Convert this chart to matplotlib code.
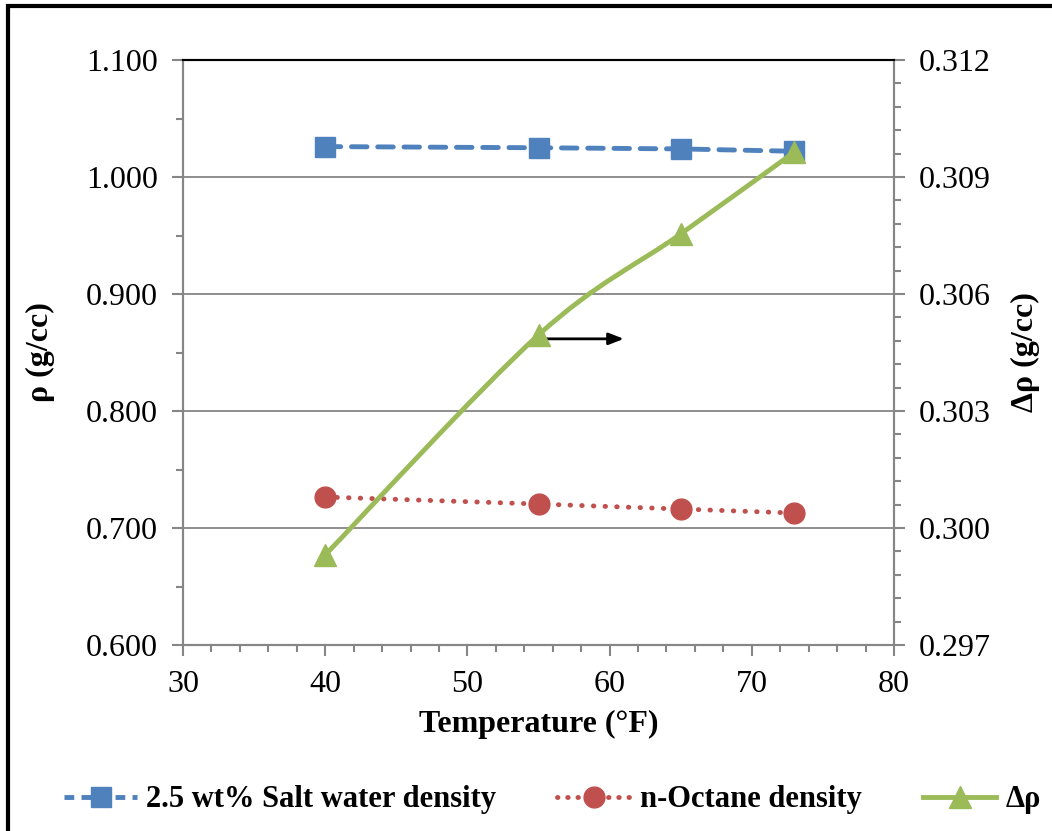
import matplotlib
matplotlib.use("Agg")
import matplotlib.pyplot as plt
from matplotlib.lines import Line2D
from matplotlib.patches import PathPatch, Rectangle
from matplotlib.path import Path
from matplotlib.ticker import MultipleLocator, FormatStrFormatter

# Dữ liệu
temp = [40, 55, 65, 73]
salt_density = [1.026, 1.025, 1.024, 1.022]
octane_density = [0.7265, 0.7205, 0.7162, 0.7128]
delta_rho = [0.29931, 0.30495, 0.30754, 0.30964]

blue = "#4F81BD"
red = "#C0504D"
green = "#9BBB59"
grey = "#868686"

plt.rcParams["font.family"] = ["Liberation Serif", "DejaVu Serif"]

fig = plt.figure(figsize=(10.52, 8.31), dpi=100)
ax = fig.add_axes([183 / 1052, 1 - 645 / 831, (894 - 183) / 1052, (645 - 60) / 831])
ax2 = ax.twinx()

# trục trái
ax.set_xlim(30, 80)
ax.set_ylim(0.6, 1.1)
ax.xaxis.set_major_locator(MultipleLocator(10))
ax.xaxis.set_minor_locator(MultipleLocator(2))
ax.yaxis.set_major_locator(MultipleLocator(0.1))
ax.yaxis.set_minor_locator(MultipleLocator(0.05))
ax.yaxis.set_major_formatter(FormatStrFormatter("%.3f"))
ax.grid(axis="y", color=grey, lw=1.3)
ax.set_axisbelow(True)

# trục phải
ax2.set_ylim(0.297, 0.312)
ax2.yaxis.set_major_locator(MultipleLocator(0.003))
ax2.yaxis.set_minor_locator(MultipleLocator(0.0006))
ax2.yaxis.set_major_formatter(FormatStrFormatter("%.3f"))

for a in (ax, ax2):
    for s in ("left", "right", "bottom"):
        a.spines[s].set_color(grey)
        a.spines[s].set_linewidth(1.5)
    a.spines["top"].set_color("black")
    a.spines["top"].set_linewidth(1.5)
    a.tick_params(which="both", direction="out", color=grey, width=1.5, labelsize=23, pad=10)
    a.tick_params(which="major", length=8)
    a.tick_params(which="minor", length=5)

ax.plot(temp, salt_density, color=blue, lw=3.5, ls=(0, (3.2, 2.2)), dash_capstyle="round",
        marker="s", ms=15, zorder=3)
ax.plot(temp, octane_density, color=red, lw=3.5, ls=(0, (0.1, 2.3)), dash_capstyle="round",
        marker="o", ms=15, zorder=3)

# đường Δρ làm trơn (Catmull-Rom -> Bezier)
pts = list(zip(temp, delta_rho))
verts = [pts[0]]
codes = [Path.MOVETO]
for i in range(len(pts) - 1):
    p0 = pts[i - 1] if i > 0 else pts[i]
    p1 = pts[i]
    p2 = pts[i + 1]
    p3 = pts[i + 2] if i + 2 < len(pts) else pts[i + 1]
    c1 = (p1[0] + (p2[0] - p0[0]) / 6, p1[1] + (p2[1] - p0[1]) / 6)
    c2 = (p2[0] - (p3[0] - p1[0]) / 6, p2[1] - (p3[1] - p1[1]) / 6)
    verts += [c1, c2, p2]
    codes += [Path.CURVE4] * 3
ax2.add_patch(PathPatch(Path(verts, codes), facecolor="none", edgecolor=green, lw=3.5, zorder=3))
ax2.plot(temp, delta_rho, ls="none", color=green, marker="^", ms=16, zorder=4)

# mũi tên chỉ trục phải
ax2.annotate("", xy=(61.2, 0.30485), xytext=(55.1, 0.30485),
             arrowprops=dict(arrowstyle="-|>,head_length=0.9,head_width=0.35", color="black", lw=2))

ax.set_xlabel("Temperature (°F)", fontsize=23, fontweight="bold", labelpad=8)
ax.set_ylabel("ρ (g/cc)", fontsize=23, fontweight="bold", labelpad=22)
ax2.set_ylabel("Δρ (g/cc)", fontsize=23, fontweight="bold", rotation=90, labelpad=14)

handles = [
    Line2D([], [], color=blue, lw=3.5, ls=(0, (2, 1.5)), marker="s", ms=15),
    Line2D([], [], color=red, lw=3.5, ls=(0, (0.1, 2.0)), dash_capstyle="round", marker="o", ms=15),
    Line2D([], [], color=green, lw=3.5, marker="^", ms=16),
]
labels = ["2.5 wt% Salt water density", "n-Octane density", "Δρ"]
fig.legend(handles, labels, loc="center", bbox_to_anchor=(0.525, 1 - 800 / 831), ncol=3,
           frameon=False, prop={"size": 22, "weight": "bold"}, handlelength=2.4,
           columnspacing=2.0, handletextpad=0.3)

# khung viền
fig.patches.append(Rectangle((8 / 1052, -0.05), 1.1, 1 - 6 / 831 + 0.05, transform=fig.transFigure,
                             fill=False, edgecolor="black", lw=3))

fig.savefig("out.png", dpi=100)
